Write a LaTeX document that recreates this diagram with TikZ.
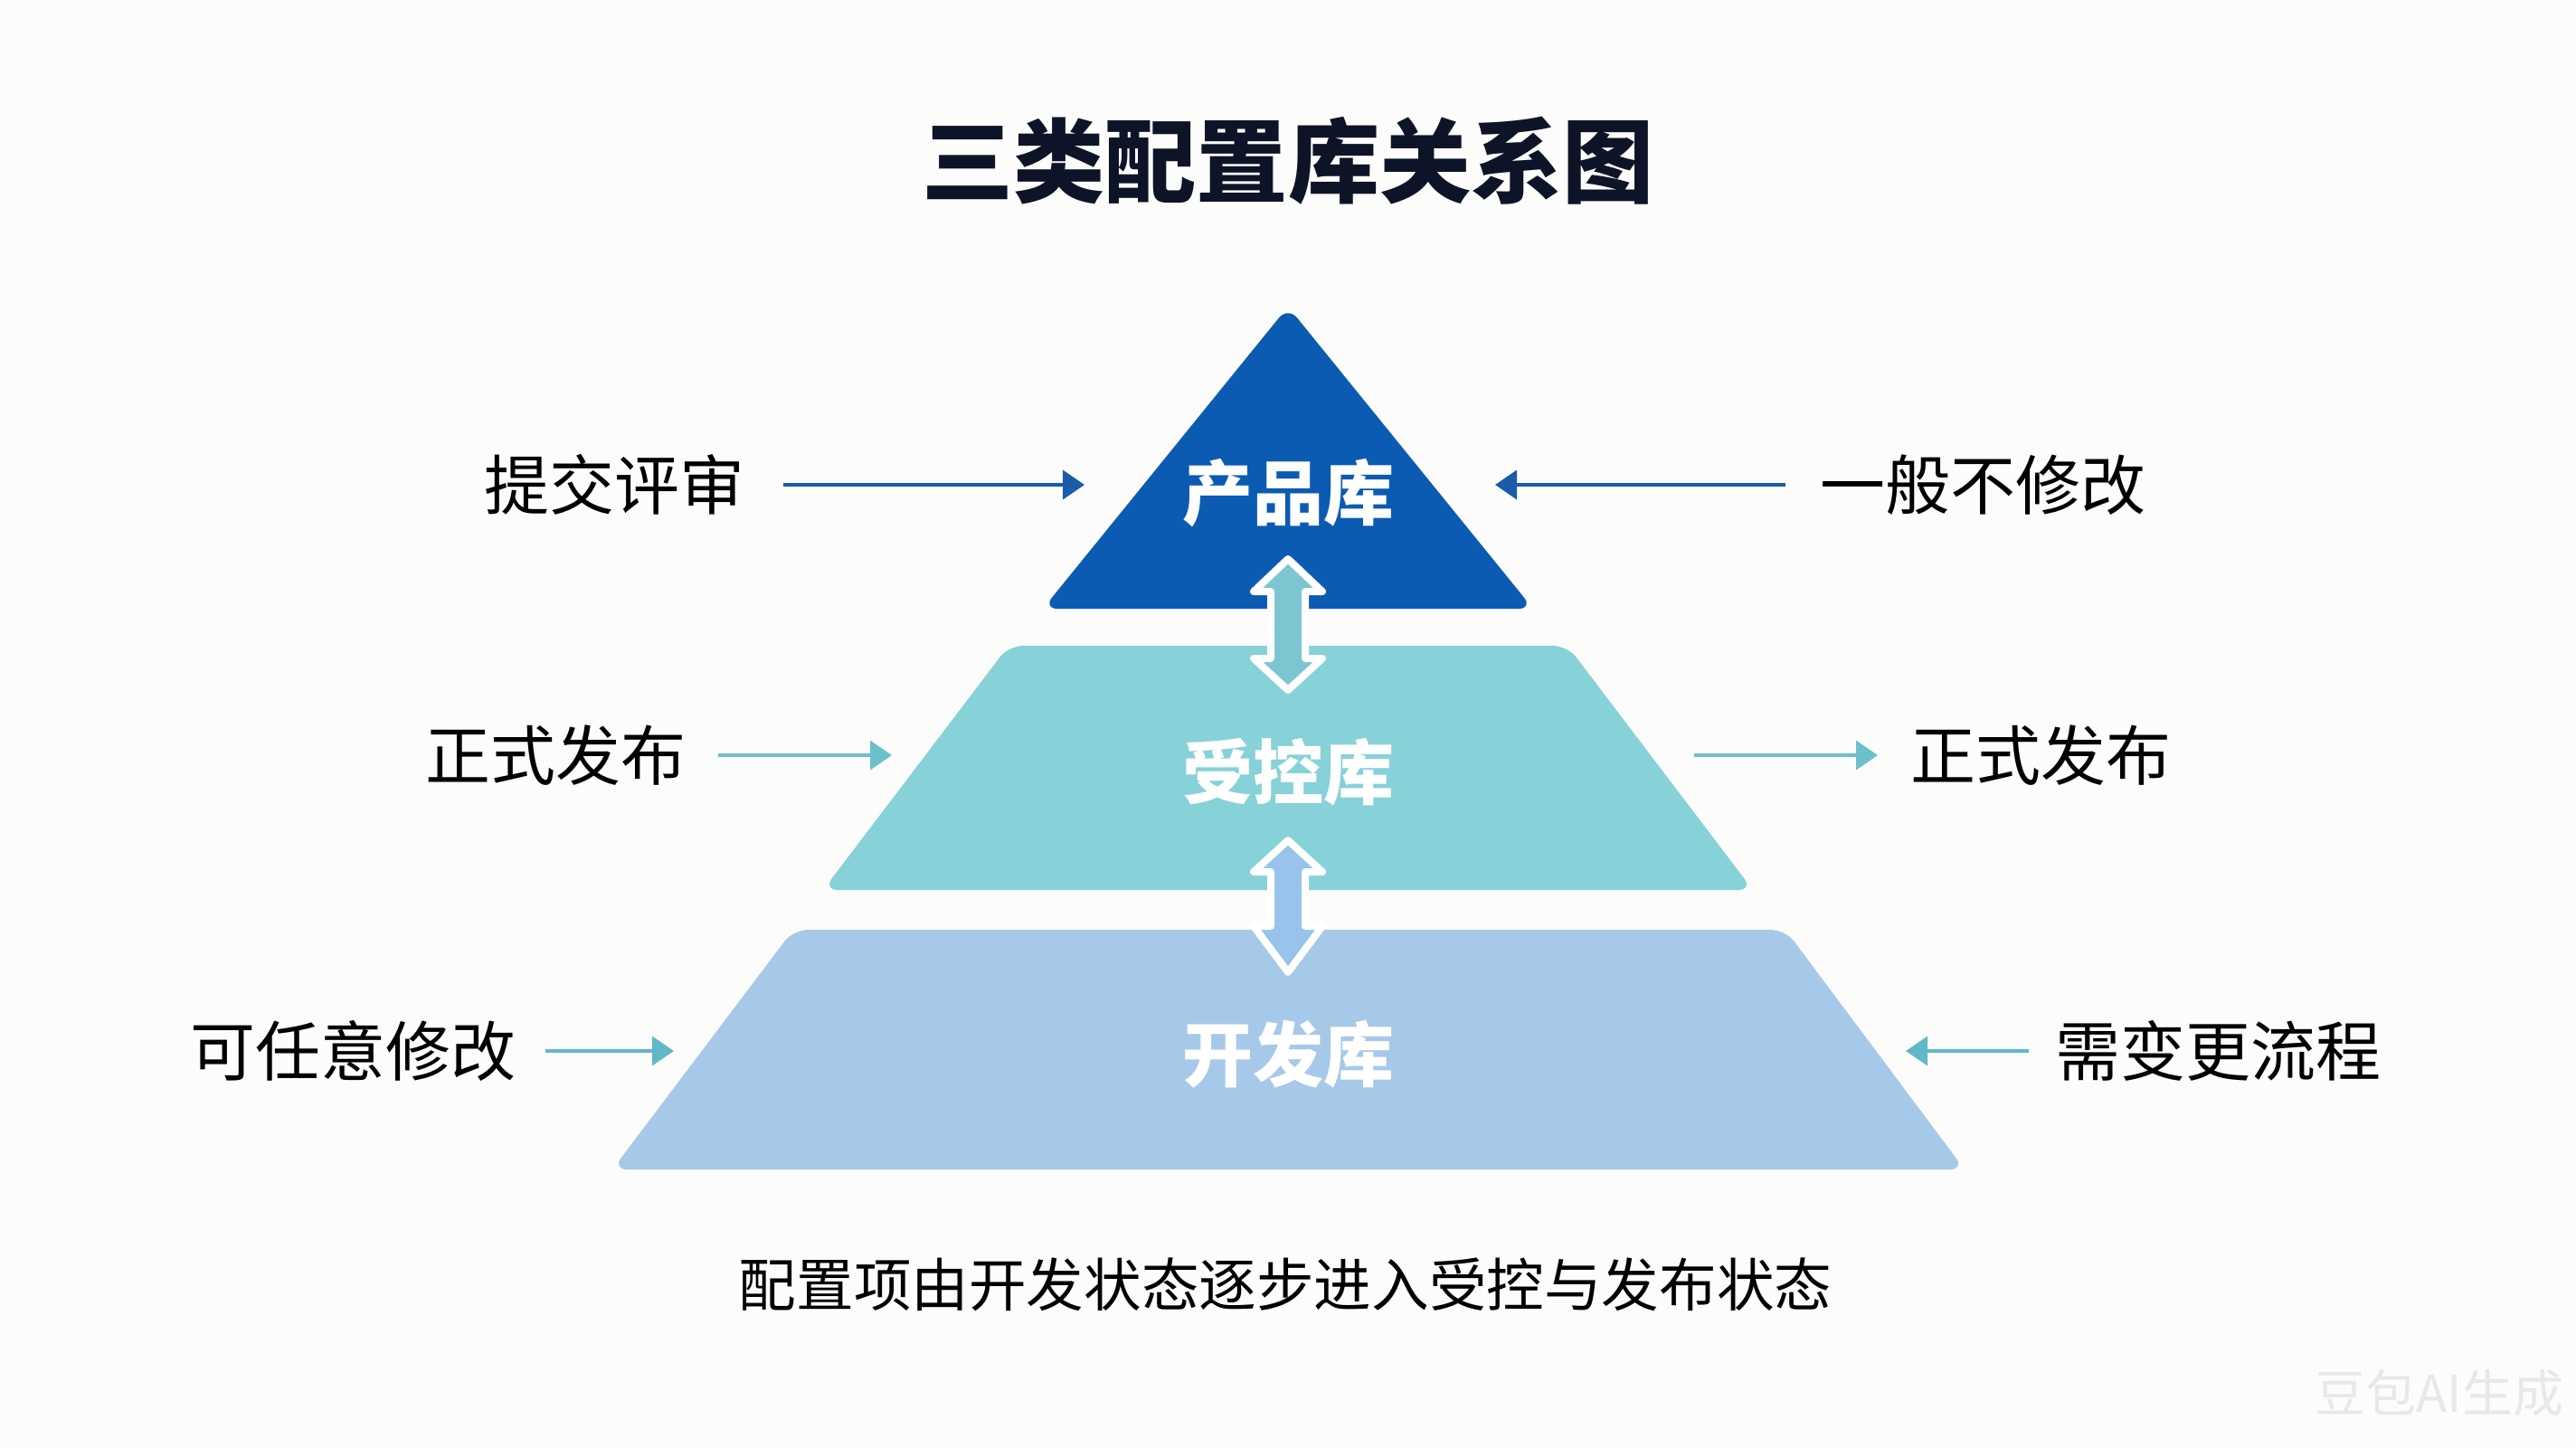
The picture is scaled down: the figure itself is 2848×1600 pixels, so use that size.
\documentclass[tikz,border=0pt]{standalone}
\usepackage{fontspec}
\setmainfont{Noto Sans CJK SC}
\usetikzlibrary{arrows.meta}
\definecolor{bgc}{HTML}{FCFCFA}
\definecolor{titlec}{HTML}{0E1428}
\definecolor{topc}{HTML}{0C5BB3}
\definecolor{midc}{HTML}{87D1D9}
\definecolor{botc}{HTML}{A7C9E9}
\definecolor{arrtop}{HTML}{1A5BAA}
\definecolor{arrmid}{HTML}{6CC0CB}
\definecolor{arrbot}{HTML}{62B8C8}
\definecolor{dblone}{HTML}{7CC6D2}
\definecolor{dbltwo}{HTML}{98C3EA}
\tikzset{
  levelshape/.style={rounded corners=4pt},
  levellabel/.style={text=white, font=\bfseries\fontsize{19.5}{23}\selectfont, inner sep=0pt},
  sidelabel/.style={text=black, font=\fontsize{18}{22}\selectfont, inner sep=0pt},
  sidearrow/.style={line width=0.9pt, -{Triangle[length=6pt,width=8pt]}},
  dblarrow/.style={draw=white, line width=2pt, line join=round},
}
\begin{document}
\begin{tikzpicture}[x=0.25pt,y=-0.25pt]
\useasboundingbox (0,0) rectangle (2848,1600);
\fill[bgc] (0,0) rectangle (2848,1600);

% title
\node[text=titlec, font=\bfseries\fontsize{25.3}{30}\selectfont, inner sep=0pt] (title) at (1424,178) {三类配置库关系图};

% pyramid levels
\fill[levelshape, topc] (1424,339) -- (1695,673) -- (1153,673) -- cycle;
\fill[levelshape, midc] (1115,714) -- (1733,714) -- (1938,984) -- (910,984) -- cycle;
\fill[levelshape, botc] (877,1028) -- (1974,1028) -- (2172,1293) -- (677,1293) -- cycle;

% double arrows between levels
\filldraw[dblarrow, fill=dblone] (1424,618) -- (1462,654) -- (1443,654) -- (1443,728) -- (1462,728) -- (1424,763) -- (1386,728) -- (1405,728) -- (1405,654) -- (1386,654) -- cycle;
\filldraw[dblarrow, fill=dbltwo] (1424,929) -- (1462,964) -- (1443,964) -- (1443,1024) -- (1462,1024) -- (1424,1075) -- (1386,1024) -- (1405,1024) -- (1405,964) -- (1386,964) -- cycle;

% level labels
\node[levellabel] (prod) at (1424,545) {产品库};
\node[levellabel] (ctrl) at (1424,854) {受控库};
\node[levellabel] (dev) at (1424,1166) {开发库};

% side labels
\node[sidelabel] (l1) at (679,536) {提交评审};
\node[sidelabel] (r1) at (2192,536) {一般不修改};
\node[sidelabel] (l2) at (614,835) {正式发布};
\node[sidelabel] (r2) at (2256,835) {正式发布};
\node[sidelabel] (l3) at (390,1162) {可任意修改};
\node[sidelabel] (r3) at (2452,1162) {需变更流程};

% arrow endpoints
\coordinate (l1s) at (866,536);  \coordinate (l1e) at (1199,536);
\coordinate (r1s) at (1974,536); \coordinate (r1e) at (1653,536);
\coordinate (l2s) at (794,835);  \coordinate (l2e) at (986,835);
\coordinate (r2s) at (1873,835); \coordinate (r2e) at (2076,835);
\coordinate (l3s) at (603,1162); \coordinate (l3e) at (745,1162);
\coordinate (r3s) at (2243,1162);\coordinate (r3e) at (2107,1162);

\draw[sidearrow, arrtop] (l1s) -- (l1e);
\draw[sidearrow, arrtop] (r1s) -- (r1e);
\draw[sidearrow, arrmid] (l2s) -- (l2e);
\draw[sidearrow, arrmid] (r2s) -- (r2e);
\draw[sidearrow, arrbot] (l3s) -- (l3e);
\draw[sidearrow, arrbot] (r3s) -- (r3e);

% caption
\node[text=black, font=\fontsize{15.9}{19}\selectfont, inner sep=0pt] (caption) at (1421,1420) {配置项由开发状态逐步进入受控与发布状态};

% watermark
\node[text=black!9, font=\fontsize{14}{17}\selectfont, inner sep=0pt] (wm) at (2697,1540) {豆包AI生成};
\end{tikzpicture}
\end{document}
